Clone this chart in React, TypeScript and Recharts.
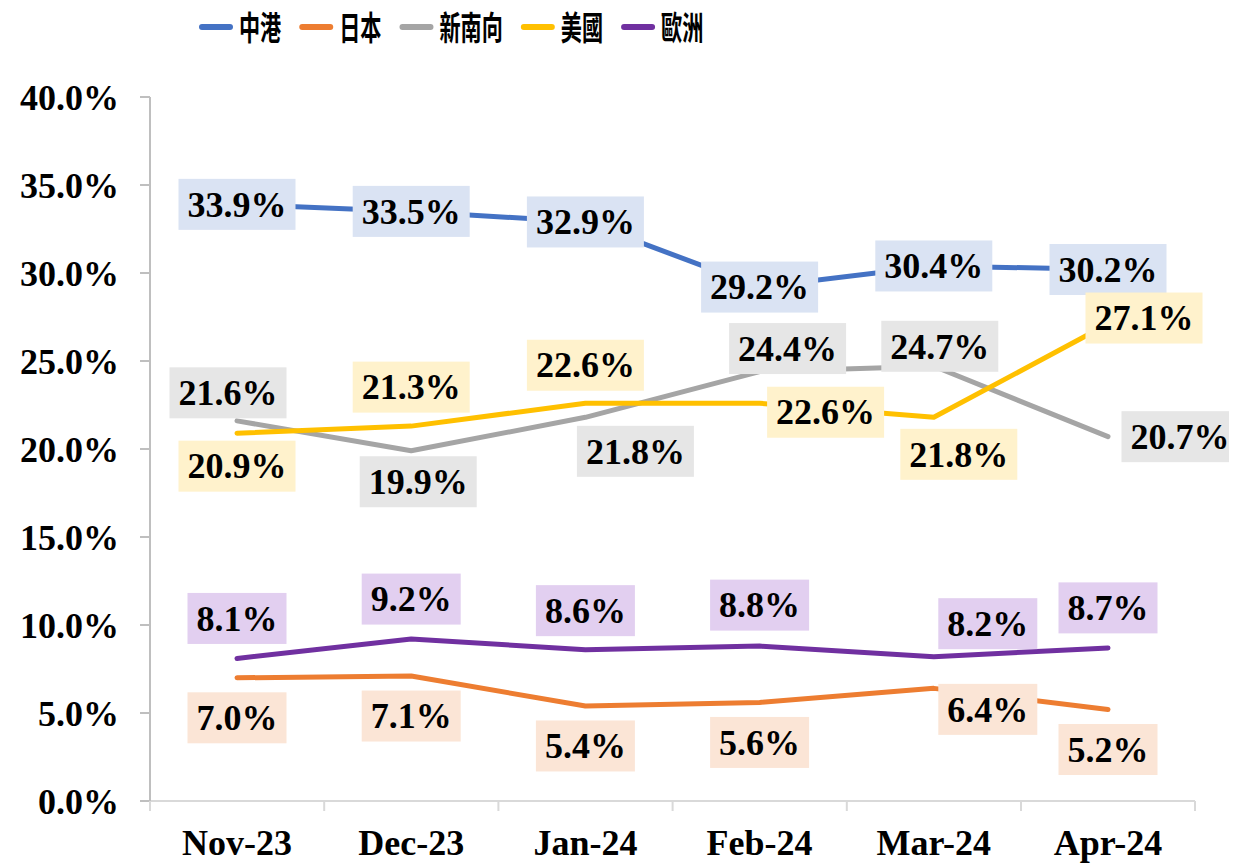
import { LineChart, Line, XAxis, YAxis, LabelList } from 'recharts';

const months = ['Nov-23', 'Dec-23', 'Jan-24', 'Feb-24', 'Mar-24', 'Apr-24'];
const yTicks = [0, 5, 10, 15, 20, 25, 30, 35, 40];

const chinaHK = [33.9, 33.5, 32.9, 29.2, 30.4, 30.2];
const japan = [7.0, 7.1, 5.4, 5.6, 6.4, 5.2];
const newSouthbound = [21.6, 19.9, 21.8, 24.4, 24.7, 20.7];
const usa = [20.9, 21.3, 22.6, 22.6, 21.8, 27.1];
const europe = [8.1, 9.2, 8.6, 8.8, 8.2, 8.7];

const FONT = "'Liberation Serif', 'Times New Roman', serif";
const CJK = "'Noto Sans CJK TC', 'Noto Sans CJK SC', sans-serif";

type Series = {
  key: string;
  name: string;
  values: number[];
  color: string;
  boxFill: string;
  offsets: [number, number][];
};

// label box offsets from each point (manual placement as in the original)
const series: Series[] = [
  {
    key: 'hk', name: '中港', values: chinaHK, color: '#4472C4', boxFill: '#DAE3F3',
    offsets: [[0, 0], [0, 0], [0, 0], [0, 0], [0, 0], [0, 0]],
  },
  {
    key: 'jp', name: '日本', values: japan, color: '#ED7D31', boxFill: '#FBE5D6',
    offsets: [[0, 40], [0, 40], [0, 40], [0, 40], [54, 21], [0, 40]],
  },
  {
    key: 'nsb', name: '新南向', values: newSouthbound, color: '#A5A5A5', boxFill: '#E6E6E6',
    offsets: [[-9, -28], [7, 31], [50, 34], [28, -23], [6, -20], [72, 0]],
  },
  {
    key: 'us', name: '美國', values: usa, color: '#FFC000', boxFill: '#FFF2CC',
    offsets: [[0, 33], [0, -39], [0, -38], [66, 9], [25, 37], [36, -6]],
  },
  {
    key: 'eu', name: '歐洲', values: europe, color: '#7030A0', boxFill: '#E2CFF0',
    offsets: [[0, -40], [0, -40], [0, -39], [0, -41], [54, -33], [0, -40]],
  },
];

const data = months.map((m, i) => {
  const row: Record<string, string | number> = { month: m };
  series.forEach((s) => {
    row[s.key] = s.values[i];
  });
  return row;
});

const LABEL_FS = 36;
const HALF_BAND = 87;

function textWidth(s: string, fs: number) {
  let w = 0;
  for (const c of s) {
    if (c === '.') w += 0.25;
    else if (c === '%') w += 1.0;
    else w += 0.5;
  }
  return w * fs;
}

function makeLabel(s: Series) {
  return (props: any) => {
    const { x, y, value, index } = props;
    if (x == null || y == null) return null;
    const [dx, dy] = s.offsets[index] || [0, 0];
    const text = `${Number(value).toFixed(1)}%`;
    const w = textWidth(text, LABEL_FS) + 18;
    const h = 51;
    const cx = x + dx;
    const cy = y + dy;
    return (
      <g key={`${s.key}-${index}`}>
        <rect x={cx - w / 2} y={cy - h / 2} width={w} height={h} fill={s.boxFill} />
        <text
          x={cx}
          y={cy + LABEL_FS * 0.34}
          textAnchor="middle"
          fontFamily={FONT}
          fontWeight={700}
          fontSize={LABEL_FS}
          fill="#000"
        >
          {text}
        </text>
      </g>
    );
  };
}

const XTick = (props: any) => {
  const { x, y, payload, index } = props;
  const last = index === months.length - 1;
  return (
    <g>
      <line x1={x - HALF_BAND} y1={y} x2={x - HALF_BAND} y2={y + 10} stroke="#D9D9D9" strokeWidth={2} />
      {last && (
        <line x1={x + HALF_BAND} y1={y} x2={x + HALF_BAND} y2={y + 10} stroke="#D9D9D9" strokeWidth={2} />
      )}
      <text
        x={x}
        y={y + 42 + LABEL_FS * 0.34}
        textAnchor="middle"
        fontFamily={FONT}
        fontWeight={700}
        fontSize={LABEL_FS}
        fill="#000"
      >
        {payload.value}
      </text>
    </g>
  );
};

// condensed CJK legend like the original
function LegendBar() {
  let cx = 191;
  const fs = 33;
  const squeeze = 0.64;
  const items = series.map((s) => {
    const tw = s.name.length * fs * squeeze;
    const item = (
      <g key={s.key}>
        <line x1={cx + 3} y1={27} x2={cx + 31} y2={27} stroke={s.color} strokeWidth={6} strokeLinecap="round" />
        <g transform={`translate(${cx + 40}, 40) scale(${squeeze}, 1)`}>
          <text x={0} y={0} fontFamily={CJK} fontWeight={700} fontSize={fs} fill="#000">
            {s.name}
          </text>
        </g>
      </g>
    );
    cx += 40 + tw + 18;
    return item;
  });
  return (
    <svg width={1229} height={70} style={{ position: 'absolute', left: 0, top: -8, overflow: 'visible' }}>
      {items}
    </svg>
  );
}

export default function App() {
  return (
    <div style={{ position: 'relative', width: 1229, height: 855, background: '#fff' }}>
      <LineChart width={1229} height={855} data={data} margin={{ top: 89, right: 42, bottom: 0, left: 0 }}>
        <XAxis
          dataKey="month"
          height={62}
          padding={{ left: HALF_BAND, right: HALF_BAND }}
          axisLine={{ stroke: '#D9D9D9', strokeWidth: 2 }}
          tickLine={false}
          tickSize={0}
          tickMargin={0}
          tick={<XTick />}
          interval={0}
        />
        <YAxis
          width={142}
          domain={[0, 40]}
          ticks={yTicks}
          interval={0}
          axisLine={{ stroke: '#BFBFBF', strokeWidth: 2 }}
          tickLine={{ stroke: '#BFBFBF', strokeWidth: 2 }}
          tickSize={10}
          tickMargin={21}
          tickFormatter={(v: number) => `${v.toFixed(1)}%`}
          tick={{ fill: '#000', fontSize: LABEL_FS, fontWeight: 700, fontFamily: FONT }}
        />
        {series.map((s) => (
          <Line
            key={s.key}
            dataKey={s.key}
            name={s.name}
            stroke={s.color}
            strokeWidth={5}
            strokeLinecap="round"
            strokeLinejoin="round"
            dot={false}
            activeDot={false}
            isAnimationActive={false}
          />
        ))}
        {series.map((s) => (
          <Line
            key={`${s.key}-labels`}
            dataKey={s.key}
            stroke="none"
            dot={false}
            activeDot={false}
            legendType="none"
            isAnimationActive={false}
          >
            <LabelList dataKey={s.key} content={makeLabel(s)} />
          </Line>
        ))}
      </LineChart>
      <LegendBar />
    </div>
  );
}
